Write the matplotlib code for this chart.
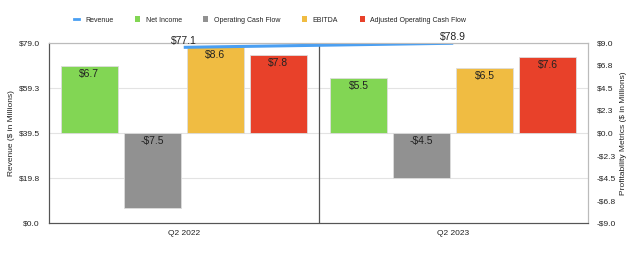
import matplotlib.pyplot as plt
import numpy as np
from matplotlib.lines import Line2D
from matplotlib.patches import Patch

plt.rcParams["font.family"] = ["Liberation Sans", "DejaVu Sans"]

quarters = ["Q2 2022", "Q2 2023"]
revenue = [77.1, 78.9]
metric_names = ["Net Income", "Operating Cash Flow", "EBITDA", "Adjusted Operating Cash Flow"]
net_income = [6.7, 5.5]
operating_cf = [-7.5, -4.5]
ebitda = [8.6, 6.5]
adjusted_ocf = [7.8, 7.6]
left_ticks = [0.0, 19.8, 39.5, 59.3, 79.0]
right_ticks = [-9.0, -6.8, -4.5, -2.3, 0.0, 2.3, 4.5, 6.8, 9.0]

colors = ["#82d654", "#919191", "#f0bc42", "#e8412a"]
line_color = "#4a9ff2"
text_color = "#222222"

fig = plt.figure(figsize=(6.4, 2.6), dpi=100)
ax = fig.add_axes([49 / 640, 37 / 260, (588 - 49) / 640, (223 - 43) / 260])
ax2 = ax.twinx()

x = np.arange(len(quarters))
slot = 0.234
width = 0.212
series = [net_income, operating_cf, ebitda, adjusted_ocf]
for i, (vals, col) in enumerate(zip(series, colors)):
    pos = x + (i - 1.5) * slot
    bars = ax2.bar(pos, vals, width, color=col, edgecolor="#dddddd", linewidth=0.6)
    for b, v in zip(bars, vals):
        y = v - 0.3 if v >= 0 else -0.3
        label = f"${v:.1f}" if v >= 0 else f"-${-v:.1f}"
        ax2.text(b.get_x() + b.get_width() / 2, y, label, ha="center", va="top",
                 fontsize=7.5, color=text_color)

ax.plot(x, revenue, color=line_color, linewidth=2.2, solid_capstyle="butt")
for xi, r in zip(x, revenue):
    ax.text(xi, r + 0.6, f"${r:.1f}", ha="center", va="bottom", fontsize=7.5,
            color=text_color, clip_on=False)

ax.set_zorder(ax2.get_zorder() + 1)
ax.patch.set_visible(False)

ax.set_xlim(-0.5, 1.5)
ax.set_ylim(0, 79.0)
ax2.set_ylim(-9.0, 9.0)
ax.set_yticks(left_ticks)
ax.set_yticklabels([f"${t:.1f}" for t in left_ticks])
ax2.set_yticks(right_ticks)
ax2.set_yticklabels([f"${t:.1f}" if t >= 0 else f"-${-t:.1f}" for t in right_ticks])
ax.set_xticks(x)
ax.set_xticklabels(quarters)

for a in (ax, ax2):
    a.tick_params(length=0, labelsize=6, colors=text_color, pad=6.5)
ax.tick_params(axis="x", pad=5)

for yv in left_ticks[1:]:
    ax2.axhline((yv / 79.0) * 18 - 9, color="#e3e3e3", linewidth=0.8, zorder=0)
ax2.axvline(0.5, color="#555555", linewidth=0.9, zorder=0.5)

for s in ("left", "bottom"):
    ax.spines[s].set_color("#555555")
    ax2.spines[s].set_color("#555555")
for s in ("top", "right"):
    ax.spines[s].set_color("#bbbbbb")
    ax2.spines[s].set_color("#bbbbbb")

ax.set_ylabel("Revenue ($ in Millions)", fontsize=6, color=text_color, labelpad=2.5)
ax2.set_ylabel("Profitability Metrics ($ in Millions)", fontsize=6, color=text_color, labelpad=2.5)

handles = [Line2D([0], [0], color=line_color, linewidth=2)]
handles += [Patch(facecolor=c, edgecolor="none") for c in colors]
fig.legend(handles, ["Revenue"] + metric_names, loc="center left",
           bbox_to_anchor=(68 / 640, 1 - 20 / 260), ncol=5, frameon=False,
           fontsize=5, handlelength=0.75, handleheight=1.0, handletextpad=0.8,
           columnspacing=3.1, labelcolor=text_color)

fig.savefig("out.png", dpi=100)
